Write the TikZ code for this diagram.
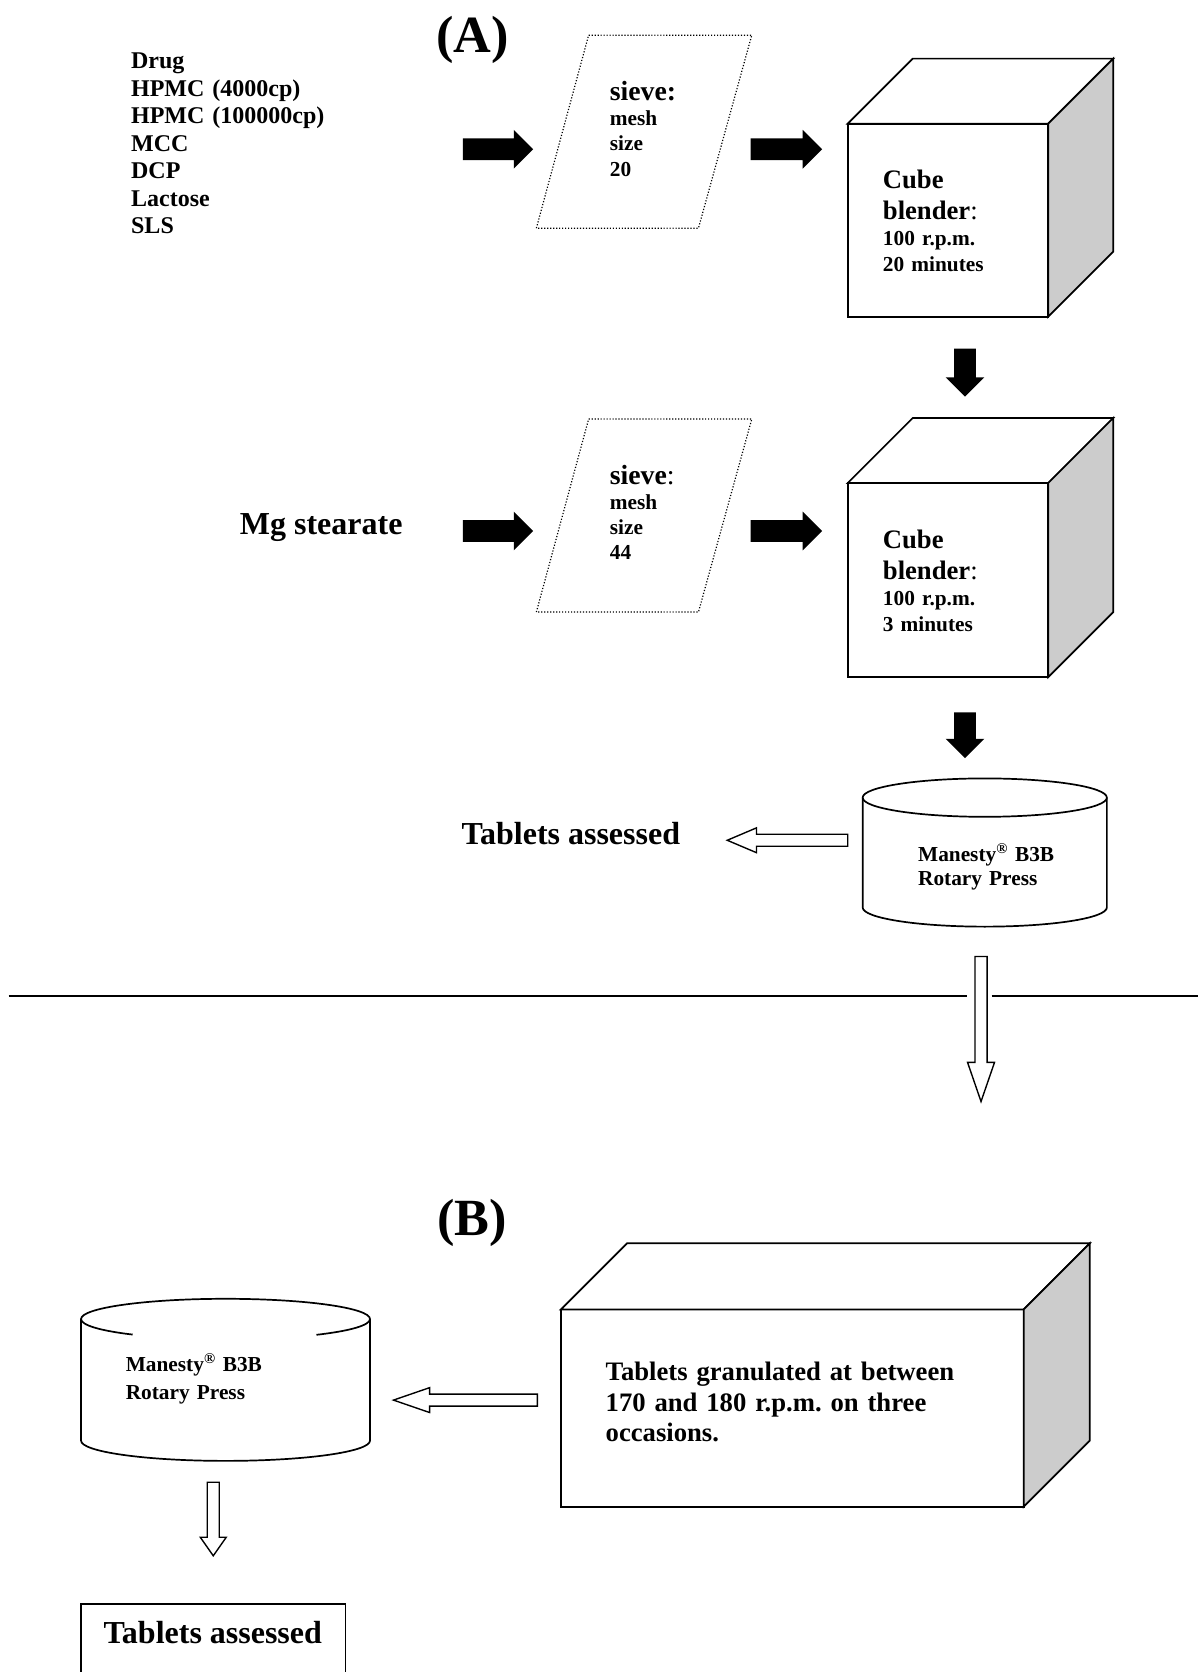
\documentclass[tikz,border=0pt]{standalone}
\usepackage{fontspec}
\setmainfont{Liberation Serif}
\usepackage{tikz}
\usetikzlibrary{shapes.arrows,calc}
\definecolor{Side}{HTML}{CCCCCC}
\newcommand\fsz[2]{\fontsize{#1}{#2}\selectfont\bfseries}
\frenchspacing

\begin{document}
\begin{tikzpicture}[x=1pt,y=-1pt,
  every node/.style={inner sep=0,outer sep=0},
  txt/.style={align=left,anchor=base west},
  face/.style={draw,line width=1.6pt,fill=white},
  sieve/.style={line width=1.1pt,dash pattern=on 1.1pt off 1.7pt},
  fatarrow/.style={single arrow,fill=black,anchor=tail,inner ysep=10pt,single arrow head extend=8pt,single arrow tip angle=90},
  fatdown/.style={fatarrow,inner ysep=0pt,inner xsep=10pt,shape border rotate=270},
  hollow/.style={single arrow,draw,line width=1.3pt,fill=white,anchor=tail,inner ysep=5pt},
  hollowdown/.style={hollow,inner ysep=0pt,inner xsep=5pt,shape border rotate=270}]
\useasboundingbox (0,0) rectangle (1123,1568);

% ---- part (A)
\node[font=\fsz{49}{56}] (lblA) at (443,37) {(A)};
\node[txt,font=\fsz{22.5}{25.8},text width=220pt] (drug) at (123,64.5) {Drug\\HPMC (4000cp)\\HPMC (100000cp)\\MCC\\DCP\\Lactose\\SLS};
\node[fatarrow,minimum height=66pt] (ar1) at (434,140) {};
\draw[sieve] (552,33) -- (705,33) -- (655,214) -- (503,214) -- cycle;
\node[txt,font=\fsz{20}{23.5},text width=80pt] (sv1) at (572,94.6) {{\fsz{26}{30}sieve:}\\mesh\\size\\20};
\node[fatarrow,minimum height=67pt] (ar2) at (704,140) {};
\node[face,minimum width=188pt,minimum height=181pt,anchor=north west] (cb1) at (795,116) {};
\draw[face] (cb1.north west) -- ++(61,-61) -- ++(188,0) -- (cb1.north east) -- cycle;
\draw[face,fill=Side] (cb1.north east) -- ++(61,-61) -- ++(0,181) -- (cb1.south east) -- cycle;
\node[txt,font=\fsz{20}{24.5},text width=150pt] (cb1t) at (828,177) {{\fsz{25}{29}Cube}\\[4.5pt]{\fsz{25}{29}blender\mdseries:}\\100 r.p.m.\\20 minutes};
\node[fatdown,minimum height=45pt] (dn1) at (905,327) {};

% second row
\node[txt,font=\fsz{30}{34}] (mg) at (225,501) {Mg stearate};
\node[fatarrow,minimum height=66pt] (ar3) at (434,498) {};
\draw[sieve] (552,393) -- (705,393) -- (655,574) -- (503,574) -- cycle;
\node[txt,font=\fsz{20}{23.5},text width=80pt] (sv2) at (572,454.6) {{\fsz{26}{30}sieve\mdseries:}\\mesh\\size\\44};
\node[fatarrow,minimum height=67pt] (ar4) at (704,498) {};
\node[face,minimum width=188pt,minimum height=182pt,anchor=north west] (cb2) at (795,453) {};
\draw[face] (cb2.north west) -- ++(61,-61) -- ++(188,0) -- (cb2.north east) -- cycle;
\draw[face,fill=Side] (cb2.north east) -- ++(61,-61) -- ++(0,182) -- (cb2.south east) -- cycle;
\node[txt,font=\fsz{20}{24.5},text width=150pt] (cb2t) at (828,514) {{\fsz{25}{29}Cube}\\[4.5pt]{\fsz{25}{29}blender\mdseries:}\\100 r.p.m.\\3 minutes};
\node[fatdown,minimum height=43pt] (dn2) at (905,668) {};

% press
\draw[face] (809,748) -- (809,851) arc[start angle=180,end angle=0,x radius=114.5,y radius=18] -- (1038,748);
\draw[face] (923.5,748) ellipse[x radius=114.5,y radius=18];
\node[txt,font=\fsz{20}{22.5},text width=150pt] (pressA) at (861,808) {Manesty\textsuperscript{\textregistered} B3B\\Rotary Press};
\node[hollow,minimum height=113pt,single arrow head extend=6pt,single arrow tip angle=46,shape border rotate=180] (bk1) at (795,788) {};
\node[txt,font=\fsz{30}{34}] (doneA) at (433,792) {Tablets assessed};

% divider
\draw[line width=1.6pt] (8,934) -- (907,934) (930,934) -- (1123,934);
\node[hollowdown,minimum height=136pt,single arrow head extend=7pt,single arrow tip angle=38] (bk2) at (920,897) {};

% ---- part (B)
\node[font=\fsz{49}{56}] (lblB) at (443,1147) {(B)};
\node[face,minimum width=434pt,minimum height=185pt,anchor=north west] (gran) at (526,1228) {};
\draw[face] (gran.north west) -- ++(62,-62) -- ++(434,0) -- (gran.north east) -- cycle;
\draw[face,fill=Side] (gran.north east) -- ++(62,-62) -- ++(0,185) -- (gran.south east) -- cycle;
\node[txt,font=\fsz{25}{28.5},text width=400pt] (granT) at (568,1295) {Tablets granulated at between\\170 and 180 r.p.m. on three\\occasions.};
\node[hollow,minimum height=135pt,single arrow head extend=6pt,single arrow tip angle=38,shape border rotate=180] (bk3) at (504,1313) {};

\draw[face] (76,1237) -- (76,1351) arc[start angle=180,end angle=0,x radius=135.5,y radius=19] -- (347,1237);
\draw[line width=1.6pt] (76,1237) arc[start angle=180,end angle=360,x radius=135.5,y radius=19];
\draw[line width=1.6pt] (76,1237) arc[start angle=180,end angle=130,x radius=135.5,y radius=19]
  (347,1237) arc[start angle=0,end angle=51,x radius=135.5,y radius=19];
\node[txt,font=\fsz{20}{26},text width=150pt] (pressB) at (118,1286) {Manesty\textsuperscript{\textregistered} B3B\\Rotary Press};
\node[hollowdown,minimum height=69pt,single arrow head extend=6.5pt,single arrow tip angle=70] (bk4) at (200,1390) {};

\node[font=\fsz{30}{34}] (doneB) at (199.5,1531) {Tablets assessed};
\draw[line width=1.6pt] (76,1568) |- (324,1504) -- (324,1568);
\end{tikzpicture}
\end{document}
